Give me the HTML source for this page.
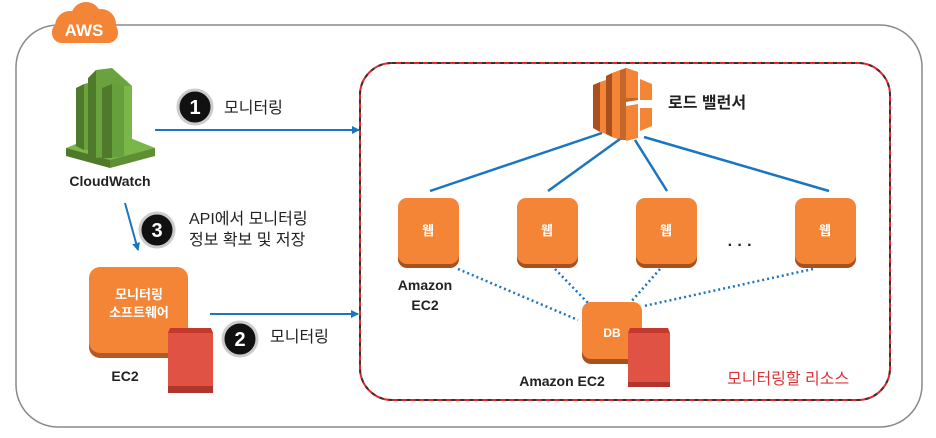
<!DOCTYPE html>
<html><head><meta charset="utf-8"><style>
html,body{margin:0;padding:0;background:#fff}
svg{display:block}
text{font-family:"Liberation Sans","Noto Sans CJK KR",sans-serif}
</style></head><body>
<svg width="936" height="438" viewBox="0 0 936 438" xmlns="http://www.w3.org/2000/svg">
<defs>
<marker id="ar" markerWidth="8" markerHeight="8" refX="7" refY="4" orient="auto" markerUnits="userSpaceOnUse"><path d="M0,0 L8,4 L0,8 z" fill="#1a75c2"/></marker>
</defs>
<rect x="16" y="25" width="906" height="402" rx="42" fill="#fff" stroke="#8a8a8a" stroke-width="1.5"/>
<g fill="#f58536">
<circle cx="70" cy="26" r="15"/><circle cx="86" cy="17" r="15"/><circle cx="101" cy="24" r="15"/>
<rect x="52" y="22" width="66" height="21" rx="10"/>
</g>
<text x="84" y="36" font-size="17" font-weight="bold" fill="#fff" text-anchor="middle">AWS</text>
<rect x="360" y="63" width="530" height="337" rx="32" fill="none" stroke="#e8262a" stroke-width="2"/>
<rect x="360" y="63" width="530" height="337" rx="32" fill="none" stroke="#333" stroke-width="2" stroke-dasharray="4 5"/>
<g>
<polygon points="66,148 110,130 155,148 110,166" fill="#7ab648"/>
<polygon points="66,148 66,156 110,168 110,160" fill="#4f7a2c"/>
<polygon points="110,160 155,148 155,156 110,168" fill="#5f8f34"/>
<polygon points="76,88 84,84 84,150 76,146" fill="#4f7a2c"/>
<polygon points="84,84 92,82 92,150 84,150" fill="#6aa33e"/>
<polygon points="88,78 96,70 96,158 88,154" fill="#4f7a2c"/>
<polygon points="96,70 112,68 132,86 132,154 96,158" fill="#6aa33e"/>
<polygon points="102,88 112,84 112,158 102,158" fill="#4f7a2c"/>
<polygon points="112,84 124,86 124,156 112,158" fill="#65a03a"/>
<polygon points="124,86 132,86 132,154 124,156" fill="#7ab648"/>
</g>
<text x="110" y="186" font-size="14" font-weight="bold" fill="#222" text-anchor="middle">CloudWatch</text>
<line x1="155" y1="130" x2="359" y2="130" stroke="#1a75c2" stroke-width="2" marker-end="url(#ar)"/>
<line x1="125" y1="203" x2="138" y2="250" stroke="#1a75c2" stroke-width="2" marker-end="url(#ar)"/>
<line x1="210" y1="314" x2="358" y2="314" stroke="#1a75c2" stroke-width="2" marker-end="url(#ar)"/>
<g font-size="20" font-weight="bold" text-anchor="middle">
<circle cx="195" cy="107" r="17" fill="#111" stroke="#ccc" stroke-width="3"/><text x="195" y="114" fill="#fff">1</text>
<circle cx="157" cy="230" r="17" fill="#111" stroke="#ccc" stroke-width="3"/><text x="157" y="237" fill="#fff">3</text>
<circle cx="240" cy="339" r="17" fill="#111" stroke="#ccc" stroke-width="3"/><text x="240" y="346" fill="#fff">2</text>
</g>
<g font-size="16" fill="#222">
<text x="224" y="113">모니터링</text>
<text x="189" y="224">API에서 모니터링</text>
<text x="189" y="245">정보 확보 및 저장</text>
<text x="270" y="342">모니터링</text>
</g>
<rect x="89" y="272" width="99" height="86" rx="11" fill="#b3582a"/>
<rect x="89" y="267" width="99" height="86" rx="11" fill="#f58536"/>
<text x="139" y="299" font-size="13" font-weight="bold" fill="#fff" text-anchor="middle">모니터링</text>
<text x="139" y="317" font-size="13" font-weight="bold" fill="#fff" text-anchor="middle">소프트웨어</text>
<rect x="168" y="332" width="45" height="61" fill="#e05243"/>
<polygon points="170,328 211,328 213,333 168,333" fill="#c4392d"/>
<rect x="168" y="386" width="45" height="7" fill="#b0352a"/>
<text x="125" y="381" font-size="14" font-weight="bold" fill="#222" text-anchor="middle">EC2</text>
<g>
<polygon points="593,85 600,82 600,132 593,128" fill="#a9501e"/>
<polygon points="600,82 606,80 606,134 600,132" fill="#f58536"/>
<polygon points="606,76 612,73 612,137 606,134" fill="#a9501e"/>
<polygon points="612,73 620,70 620,140 612,137" fill="#f58536"/>
<polygon points="620,70 626,68 638,72 638,100 626,102 626,140 620,140" fill="#c4672b"/>
<polygon points="626,68 638,72 638,98 626,98" fill="#f58536"/>
<polygon points="626,106 638,104 638,138 626,141" fill="#f58536"/>
<polygon points="640,79 652,84 652,100 640,100" fill="#f58536"/>
<polygon points="640,108 652,108 652,126 640,131" fill="#f58536"/>
</g>
<text x="668" y="108" font-size="16" font-weight="bold" fill="#222">로드 밸런서</text>
<g stroke="#1a75c2" stroke-width="2.5">
<line x1="602" y1="133" x2="430" y2="191"/>
<line x1="620" y1="139" x2="548" y2="191"/>
<line x1="635" y1="140" x2="667" y2="191"/>
<line x1="644" y1="137" x2="829" y2="191"/>
</g>
<g stroke="#1a75c2" stroke-width="2.5" stroke-dasharray="2 3">
<line x1="458" y1="269" x2="578" y2="320"/>
<line x1="555" y1="269" x2="588" y2="303"/>
<line x1="660" y1="269" x2="630" y2="303"/>
<line x1="813" y1="269" x2="644" y2="306"/>
</g>
<g>
<rect x="398" y="202" width="61" height="66" rx="9" fill="#a9501e"/><rect x="398" y="198" width="61" height="66" rx="9" fill="#f58536"/>
<rect x="517" y="202" width="61" height="66" rx="9" fill="#a9501e"/><rect x="517" y="198" width="61" height="66" rx="9" fill="#f58536"/>
<rect x="636" y="202" width="61" height="66" rx="9" fill="#a9501e"/><rect x="636" y="198" width="61" height="66" rx="9" fill="#f58536"/>
<rect x="795" y="202" width="61" height="66" rx="9" fill="#a9501e"/><rect x="795" y="198" width="61" height="66" rx="9" fill="#f58536"/>
</g>
<g font-size="13" font-weight="bold" fill="#fff" text-anchor="middle">
<text x="428" y="235">웹</text><text x="547" y="235">웹</text><text x="666" y="235">웹</text><text x="825" y="235">웹</text>
</g>
<text x="740" y="250" font-size="16" font-weight="bold" fill="#222" text-anchor="middle">· · ·</text>
<text x="425" y="290" font-size="14" font-weight="bold" fill="#222" text-anchor="middle">Amazon</text>
<text x="425" y="310" font-size="14" font-weight="bold" fill="#222" text-anchor="middle">EC2</text>
<rect x="582" y="307" width="60" height="57" rx="9" fill="#a9501e"/>
<rect x="582" y="302" width="60" height="57" rx="9" fill="#f58536"/>
<text x="612" y="337" font-size="12" font-weight="bold" fill="#fff" text-anchor="middle">DB</text>
<rect x="628" y="333" width="42" height="54" fill="#e05243"/>
<polygon points="630,328 668,328 670,333 628,333" fill="#c4392d"/>
<rect x="628" y="382" width="42" height="5" fill="#b0352a"/>
<text x="562" y="386" font-size="14" font-weight="bold" fill="#222" text-anchor="middle">Amazon  EC2</text>
<text x="727" y="384" font-size="16" fill="#d9363a">모니터링할 리소스</text>
</svg>
</body></html>
